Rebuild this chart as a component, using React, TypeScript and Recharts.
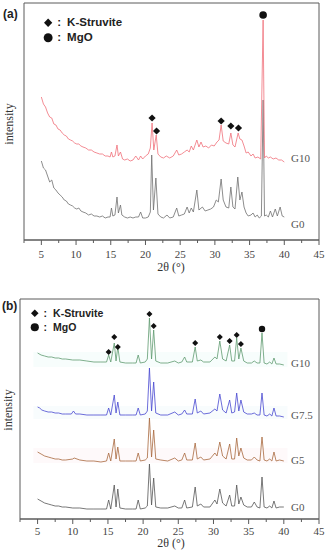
import { ComposedChart, Line, Scatter, XAxis, YAxis, ReferenceArea } from "recharts";

// 2θ ticks (major ones every 5° are labelled)
const THETA_TICKS = [2.5, 5, 7.5, 10, 12.5, 15, 17.5, 20, 22.5, 25, 27.5, 30, 32.5, 35, 37.5, 40, 42.5, 45];

// ---- panel (a) : G0 and G10 patterns (intensity, arbitrary units) ----
const G0_A: [number, number][] = [
  [5.0, 79], [5.3, 72], [5.6, 70], [5.9, 64], [6.2, 58], [6.5, 60], [6.8, 52], [7.1, 50], [7.4, 47], [7.7, 45],
  [8.0, 43], [8.3, 40], [8.6, 39], [8.9, 36], [9.2, 35], [9.5, 34], [9.8, 32], [10.1, 31], [10.4, 32], [10.7, 29],
  [11.0, 28], [11.4, 27], [11.8, 25], [12.2, 26], [12.6, 24], [13.0, 24], [13.4, 23], [13.8, 24], [14.2, 22], [14.6, 23],
  [14.9, 23], [15.1, 32], [15.3, 24], [15.6, 25], [15.9, 43], [16.1, 27], [16.4, 35], [16.6, 25], [17.0, 23], [17.4, 22],
  [17.8, 23], [18.2, 22], [18.6, 23], [19.0, 23], [19.3, 28], [19.6, 22], [20.0, 22], [20.4, 23], [20.7, 28], [20.9, 85],
  [21.15, 30], [21.5, 62], [21.8, 26], [22.2, 23], [22.6, 22], [23.1, 25], [23.5, 22], [24.0, 23], [24.5, 32], [24.8, 24],
  [25.2, 25], [25.6, 26], [26.0, 33], [26.3, 27], [26.6, 32], [26.9, 28], [27.4, 50], [27.7, 30], [28.2, 33], [28.6, 29],
  [29.0, 30], [29.4, 31], [29.8, 33], [30.2, 40], [30.5, 38], [30.9, 61], [31.2, 40], [31.6, 33], [32.0, 32], [32.3, 53],
  [32.6, 33], [32.9, 31], [33.3, 63], [33.6, 40], [33.9, 48], [34.2, 33], [34.5, 27], [34.8, 24], [35.2, 25], [35.5, 27],
  [35.8, 23], [36.1, 25], [36.4, 22], [36.7, 24], [36.95, 140], [37.15, 24], [37.4, 25], [37.7, 23], [38.0, 29], [38.3, 23],
  [38.7, 31], [39.0, 24], [39.4, 33], [39.7, 24], [40.0, 23],
];

const G10_A: [number, number][] = [
  [5.0, 143], [5.3, 136], [5.6, 133], [5.9, 127], [6.2, 123], [6.5, 122], [6.8, 116], [7.1, 115], [7.4, 111], [7.7, 110],
  [8.0, 107], [8.3, 105], [8.6, 104], [8.9, 101], [9.2, 100], [9.5, 99], [9.8, 97], [10.1, 96], [10.4, 96], [10.7, 94],
  [11.0, 93], [11.4, 92], [11.8, 90], [12.2, 90], [12.6, 88], [13.0, 87], [13.4, 86], [13.8, 86], [14.2, 84], [14.6, 84],
  [14.9, 83], [15.1, 88], [15.3, 83], [15.6, 84], [15.9, 95], [16.1, 84], [16.4, 88], [16.7, 81], [17.0, 80], [17.4, 81],
  [17.8, 79], [18.2, 80], [18.6, 84], [19.0, 80], [19.3, 84], [19.6, 81], [20.0, 84], [20.4, 86], [20.7, 92], [20.95, 117],
  [21.2, 90], [21.55, 105], [21.8, 86], [22.2, 83], [22.6, 82], [23.0, 84], [23.5, 82], [24.0, 84], [24.5, 90], [24.8, 85],
  [25.2, 86], [25.6, 88], [26.0, 90], [26.3, 88], [26.6, 94], [26.9, 90], [27.4, 100], [27.7, 93], [28.0, 98], [28.3, 93],
  [28.7, 94], [29.1, 92], [29.5, 95], [29.9, 94], [30.3, 98], [30.6, 100], [30.9, 115], [31.2, 99], [31.6, 97], [32.0, 96],
  [32.3, 107], [32.6, 95], [32.9, 93], [33.35, 107], [33.6, 101], [33.9, 100], [34.2, 94], [34.5, 87], [34.8, 88], [35.2, 84],
  [35.5, 86], [35.8, 82], [36.2, 83], [36.6, 81], [36.95, 220], [37.15, 82], [37.4, 84], [37.7, 82], [38.0, 83], [38.4, 81],
  [38.8, 82], [39.2, 80], [39.6, 80], [40.0, 78],
];

const STRUVITE_A: [number, number][] = [[20.95, 122], [21.6, 109], [30.9, 119], [32.3, 114], [33.4, 112]];
const MGO_A: [number, number][] = [[36.95, 225]];

// ---- panel (b) : G0, G5, G7.5 and G10 patterns ----
const G0_B: [number, number][] = [
  [5.0, 20], [5.5, 18], [6.0, 16], [6.5, 15], [7.0, 14], [7.5, 13], [8.0, 13], [8.5, 12], [9.0, 12], [10.0, 11],
  [11.0, 11], [12.0, 10], [13.0, 10], [14.0, 10], [14.8, 10], [15.1, 19], [15.4, 10], [15.9, 34], [16.15, 12], [16.4, 30],
  [16.7, 11], [17.5, 10], [18.5, 10], [19.0, 10], [19.3, 19], [19.6, 10], [20.3, 11], [20.6, 13], [20.9, 55], [21.2, 14],
  [21.5, 41], [21.8, 12], [22.5, 11], [23.5, 11], [24.5, 13], [25.0, 11], [25.5, 11], [25.9, 19], [26.2, 11], [27.0, 12],
  [27.4, 32], [27.7, 13], [28.2, 15], [28.6, 12], [29.5, 12], [30.2, 19], [30.5, 15], [30.9, 30], [31.3, 16], [31.8, 13],
  [32.3, 24], [32.6, 13], [33.0, 13], [33.3, 34], [33.6, 15], [33.9, 22], [34.3, 14], [34.8, 12], [35.4, 12], [35.8, 17],
  [36.2, 12], [36.6, 11], [36.9, 42], [37.2, 12], [37.6, 11], [38.0, 13], [38.3, 11], [38.6, 18], [38.9, 11], [39.4, 12],
  [40.0, 12],
];

const G5_B: [number, number][] = [
  [5.0, 67], [5.5, 65], [6.0, 63], [6.5, 62], [7.0, 61], [7.5, 60], [8.0, 60], [8.5, 59], [9.0, 59], [10.0, 60],
  [10.2, 61], [11.0, 59], [12.0, 58], [13.0, 58], [14.0, 57], [14.8, 58], [15.1, 66], [15.4, 58], [15.9, 80], [16.15, 60],
  [16.4, 72], [16.7, 58], [17.5, 58], [18.5, 58], [19.0, 58], [19.3, 66], [19.6, 58], [20.3, 59], [20.6, 61], [20.9, 101],
  [21.2, 62], [21.5, 89], [21.8, 60], [22.5, 59], [23.5, 58], [24.5, 61], [25.0, 58], [25.5, 59], [25.9, 66], [26.2, 59],
  [27.0, 59], [27.4, 76], [27.7, 60], [28.2, 62], [28.6, 59], [29.5, 60], [30.2, 66], [30.5, 63], [30.9, 77], [31.3, 63],
  [31.8, 60], [32.3, 75], [32.6, 60], [33.0, 60], [33.3, 81], [33.6, 63], [33.9, 71], [34.3, 61], [34.8, 59], [35.4, 59],
  [35.8, 62], [36.2, 59], [36.6, 58], [36.9, 82], [37.2, 59], [37.6, 58], [38.0, 60], [38.3, 58], [38.6, 67], [38.9, 58],
  [39.4, 59], [40.0, 58],
];

const G75_B: [number, number][] = [
  [5.0, 112], [5.3, 111], [5.6, 109], [6.0, 108], [6.5, 107], [7.0, 107], [7.5, 106], [8.0, 106], [8.5, 105], [9.0, 105],
  [9.8, 105], [10.1, 108], [10.4, 105], [11.0, 105], [12.0, 104], [13.0, 104], [14.0, 104], [14.8, 104], [15.1, 111], [15.4, 104],
  [15.9, 124], [16.15, 106], [16.4, 117], [16.7, 104], [17.5, 104], [18.5, 104], [19.0, 104], [19.3, 111], [19.6, 104], [20.3, 105],
  [20.6, 108], [20.9, 151], [21.2, 108], [21.5, 137], [21.8, 106], [22.5, 104], [23.5, 104], [24.5, 107], [25.0, 104], [25.5, 105],
  [25.9, 109], [26.2, 105], [27.0, 105], [27.4, 120], [27.7, 106], [28.2, 108], [28.6, 105], [29.5, 106], [30.2, 110], [30.5, 108],
  [30.9, 125], [31.3, 109], [31.8, 106], [32.3, 119], [32.6, 106], [33.0, 107], [33.3, 126], [33.6, 108], [33.9, 119], [34.3, 107],
  [34.8, 105], [35.4, 105], [35.8, 106], [36.2, 104], [36.6, 104], [36.9, 126], [37.2, 104], [37.6, 103], [38.0, 105], [38.3, 103],
  [38.6, 111], [38.9, 103], [39.4, 103], [40.0, 102],
];

const G10_B: [number, number][] = [
  [5.0, 166], [5.5, 164], [6.0, 163], [6.5, 162], [7.0, 162], [7.5, 161], [8.0, 161], [8.5, 160], [9.0, 160], [10.0, 159],
  [11.0, 159], [12.0, 158], [13.0, 157], [14.0, 157], [14.8, 157], [15.1, 164], [15.4, 157], [15.9, 176], [16.15, 158], [16.4, 172],
  [16.7, 157], [17.5, 156], [18.5, 156], [19.0, 156], [19.3, 164], [19.6, 156], [20.3, 157], [20.6, 160], [20.9, 201], [21.2, 160],
  [21.5, 189], [21.8, 158], [22.5, 156], [23.5, 156], [24.5, 158], [25.0, 156], [25.5, 157], [25.9, 162], [26.2, 157], [27.0, 157],
  [27.4, 172], [27.7, 158], [28.2, 159], [28.6, 157], [29.5, 157], [30.2, 162], [30.5, 160], [30.9, 178], [31.3, 160], [31.8, 158],
  [32.3, 174], [32.6, 158], [33.0, 158], [33.3, 181], [33.6, 160], [33.9, 171], [34.3, 158], [34.8, 156], [35.4, 156], [35.8, 158],
  [36.2, 156], [36.6, 156], [36.9, 186], [37.2, 156], [37.6, 155], [38.0, 157], [38.3, 155], [38.6, 161], [38.9, 155], [39.4, 155],
  [40.0, 154],
];

const STRUVITE_B: [number, number][] = [
  [15.1, 167], [15.9, 182], [16.4, 172], [20.9, 205], [21.5, 193], [27.4, 176], [30.9, 182], [32.3, 178], [33.3, 184], [33.9, 175],
];
const MGO_B: [number, number][] = [[36.9, 190]];

const toPoints = (arr: [number, number][]) => arr.map(([x, y]) => ({ x, y }));

const FRAME = "#5a5a5a";
const SERIF = "'Liberation Serif', 'DejaVu Serif', serif";
const SANS = "'Liberation Sans', Arial, sans-serif";

function makeTick(labelDy: number) {
  return function AxisTick(props: any) {
    const { x, y, payload } = props;
    const major = payload.value % 5 === 0;
    return (
      <g>
        <line x1={x} x2={x} y1={y} y2={y + (major ? 5 : 3)} stroke={FRAME} strokeWidth={1} />
        {major && (
          <text x={x} y={y + labelDy} textAnchor="middle" fontSize={11} fontFamily={SERIF} fill="#444">
            {payload.value}
          </text>
        )}
      </g>
    );
  };
}

function Diamond(size: number) {
  return (props: any) => {
    const { cx, cy } = props;
    const r = size;
    return <polygon points={`${cx},${cy - r} ${cx + r},${cy} ${cx},${cy + r} ${cx - r},${cy}`} fill="#111" />;
  };
}

function Dot(r: number) {
  return (props: any) => <circle cx={props.cx} cy={props.cy} r={r} fill="#111" />;
}

function Legend({ left, top, size }: { left: number; top: number; size: number }) {
  const rowGap = size + 3;
  const sym = size * 0.36;
  return (
    <div style={{ position: "absolute", left, top, fontFamily: SANS, fontWeight: 700, fontSize: size, color: "#222" }}>
      <div style={{ position: "absolute", top: 0, whiteSpace: "nowrap", lineHeight: `${size}px` }}>
        <svg width={sym * 2 + 2} height={size} style={{ verticalAlign: "top" }}>
          <polygon
            points={`${sym + 1},${size / 2 - sym} ${sym * 2 + 1},${size / 2} ${sym + 1},${size / 2 + sym} 1,${size / 2}`}
            fill="#111"
          />
        </svg>
        <span style={{ marginLeft: 4 }}>:</span>
        <span style={{ marginLeft: 6 }}>K-Struvite</span>
      </div>
      <div style={{ position: "absolute", top: rowGap, whiteSpace: "nowrap", lineHeight: `${size}px` }}>
        <svg width={sym * 2 + 2} height={size} style={{ verticalAlign: "top" }}>
          <circle cx={sym + 1} cy={size / 2} r={sym + 0.3} fill="#111" />
        </svg>
        <span style={{ marginLeft: 4 }}>:</span>
        <span style={{ marginLeft: 6 }}>MgO</span>
      </div>
    </div>
  );
}

const seriesLabel = (text: string, left: number, cy: number) => (
  <div
    key={text + cy}
    style={{ position: "absolute", left, top: cy - 7, fontFamily: SERIF, fontSize: 11, color: "#555", lineHeight: "14px" }}
  >
    {text}
  </div>
);

export default function App() {
  const tickA = makeTick(18);
  const tickB = makeTick(16);
  return (
    <div style={{ position: "absolute", left: 0, top: 0, width: 327, height: 550, background: "#fff", overflow: "hidden" }}>
      {/* panel (a) */}
      <div style={{ position: "absolute", left: 0, top: 0 }}>
        <ComposedChart width={327} height={275} margin={{ top: 3, right: 8, left: 24, bottom: 0 }}>
          <XAxis
            type="number"
            dataKey="x"
            domain={[2.5, 45]}
            ticks={THETA_TICKS}
            interval={0}
            height={35}
            tickSize={0}
            tickMargin={0}
            tickLine={false}
            tick={tickA}
            axisLine={{ stroke: FRAME }}
            allowDataOverflow
          />
          <YAxis type="number" dataKey="y" domain={[0, 237]} width={0} tick={false} axisLine={false} allowDataOverflow />
          <ReferenceArea x1={2.5} x2={45} y1={0} y2={237} fill="none" stroke={FRAME} strokeWidth={1} />
          <Line data={toPoints(G0_A)} dataKey="y" type="linear" stroke="#707070" strokeWidth={0.8} dot={false} isAnimationActive={false} />
          <Line data={toPoints(G10_A)} dataKey="y" type="linear" stroke="#f0707a" strokeWidth={0.8} dot={false} isAnimationActive={false} />
          <Scatter data={toPoints(STRUVITE_A)} dataKey="y" shape={Diamond(3.6)} isAnimationActive={false} />
          <Scatter data={toPoints(MGO_A)} dataKey="y" shape={Dot(3.8)} isAnimationActive={false} />
        </ComposedChart>
      </div>

      {/* panel (b) */}
      <div style={{ position: "absolute", left: 0, top: 280 }}>
        <ComposedChart width={327} height={270} margin={{ top: 19, right: 8, left: 20, bottom: 0 }}>
          <XAxis
            type="number"
            dataKey="x"
            domain={[2.5, 45]}
            ticks={THETA_TICKS}
            interval={0}
            height={31}
            tickSize={0}
            tickMargin={0}
            tickLine={false}
            tick={tickB}
            axisLine={{ stroke: FRAME }}
            allowDataOverflow
          />
          <YAxis type="number" dataKey="y" domain={[0, 220]} width={0} tick={false} axisLine={false} allowDataOverflow />
          <ReferenceArea x1={4.4} x2={40.5} y1={152} y2={167} fill="#f0fcfa" stroke="none" />
          <ReferenceArea x1={4.4} x2={40.5} y1={100} y2={113} fill="#f1f9fc" stroke="none" />
          <ReferenceArea x1={4.4} x2={40.5} y1={56} y2={71} fill="#fef3f5" stroke="none" />
          <ReferenceArea x1={2.5} x2={45} y1={0} y2={220} fill="none" stroke={FRAME} strokeWidth={1} />
          <Line data={toPoints(G10_B)} dataKey="y" type="linear" stroke="#5f9a70" strokeWidth={0.8} dot={false} isAnimationActive={false} />
          <Line data={toPoints(G75_B)} dataKey="y" type="linear" stroke="#4848d0" strokeWidth={0.8} dot={false} isAnimationActive={false} />
          <Line data={toPoints(G5_B)} dataKey="y" type="linear" stroke="#a8683e" strokeWidth={0.8} dot={false} isAnimationActive={false} />
          <Line data={toPoints(G0_B)} dataKey="y" type="linear" stroke="#555555" strokeWidth={0.8} dot={false} isAnimationActive={false} />
          <Scatter data={toPoints(STRUVITE_B)} dataKey="y" shape={Diamond(3)} isAnimationActive={false} />
          <Scatter data={toPoints(MGO_B)} dataKey="y" shape={Dot(3.2)} isAnimationActive={false} />
        </ComposedChart>
      </div>

      {/* panel letters */}
      <div style={{ position: "absolute", left: 3, top: 7, fontFamily: SANS, fontWeight: 700, fontSize: 12, color: "#222" }}>(a)</div>
      <div style={{ position: "absolute", left: 2, top: 299, fontFamily: SANS, fontWeight: 700, fontSize: 12, color: "#222" }}>(b)</div>

      <Legend left={43} top={17} size={11.5} />
      <Legend left={30} top={308} size={10.5} />

      {seriesLabel("G10", 291, 158)}
      {seriesLabel("G0", 291, 224)}
      {seriesLabel("G10", 291, 363)}
      {seriesLabel("G7.5", 291, 415)}
      {seriesLabel("G5", 291, 460)}
      {seriesLabel("G0", 291, 507)}

      {/* axis titles */}
      <div style={{ position: "absolute", left: 9, top: 124, transform: "translate(-50%, -50%) rotate(-90deg)", fontFamily: SERIF, fontSize: 12, color: "#333", whiteSpace: "nowrap" }}>
        intensity
      </div>
      <div style={{ position: "absolute", left: 8, top: 410, transform: "translate(-50%, -50%) rotate(-90deg)", fontFamily: SERIF, fontSize: 12, color: "#333", whiteSpace: "nowrap" }}>
        intensity
      </div>
      <div style={{ position: "absolute", left: 171, top: 267, transform: "translate(-50%, -50%)", fontFamily: SERIF, fontSize: 12, color: "#333", whiteSpace: "nowrap" }}>
        2θ (°)
      </div>
      <div style={{ position: "absolute", left: 171, top: 543, transform: "translate(-50%, -50%)", fontFamily: SERIF, fontSize: 12, color: "#333", whiteSpace: "nowrap" }}>
        2θ (°)
      </div>
    </div>
  );
}
